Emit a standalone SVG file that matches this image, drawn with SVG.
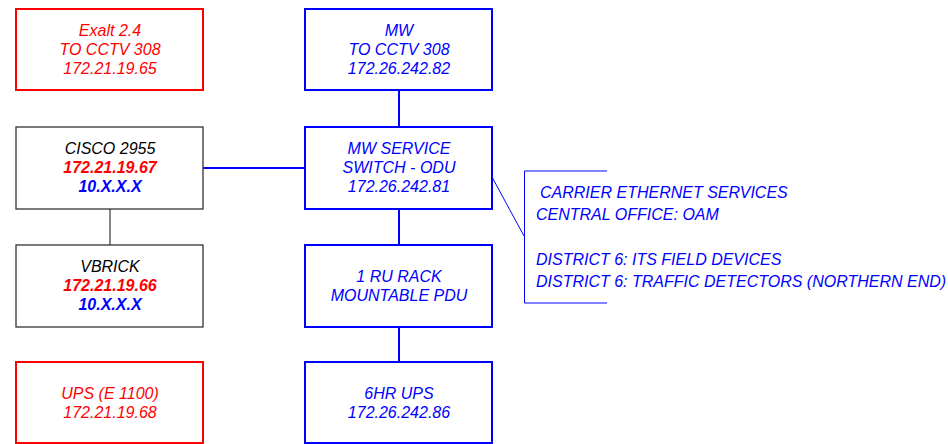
<svg xmlns="http://www.w3.org/2000/svg" width="948" height="444" viewBox="0 0 948 444">
<style>
text{font-family:"Liberation Sans",Arial,sans-serif;font-size:16px;font-style:italic;text-anchor:middle}
.r{fill:#ff0000}.b{fill:#0000ff}.k{fill:#000}.bold{font-weight:bold}
.boxr{fill:#fff;stroke:#ff0000;stroke-width:2}
.boxb{fill:#fff;stroke:#0000ff;stroke-width:2}
.boxk{fill:#fff;stroke:#333;stroke-width:1.3}
.cb{stroke:#0000ff;stroke-width:2;fill:none}
.ck{stroke:#444;stroke-width:1.3;fill:none}
.thin{stroke:#0000ff;stroke-width:1;fill:none}
</style>
<rect width="948" height="444" fill="#fff"/>
<g id="connectors">
<line class="cb" x1="399" y1="90" x2="399" y2="127"/>
<line class="cb" x1="203" y1="168" x2="305" y2="168"/>
<line class="ck" x1="110" y1="209" x2="110" y2="245"/>
<line class="cb" x1="399" y1="209" x2="399" y2="245"/>
<line class="cb" x1="399" y1="327" x2="399" y2="362"/>
<line class="thin" x1="492" y1="177" x2="524" y2="236"/>
<path class="thin" d="M607,171 H524.5 V303 H607"/>
</g>
<g id="exalt">
<rect class="boxr" x="16" y="9" width="187" height="81"/>
<text class="r" x="110" y="36">Exalt 2.4</text>
<text class="r" x="110" y="55">TO CCTV 308</text>
<text class="r" x="110" y="74">172.21.19.65</text>
</g>
<g id="mw">
<rect class="boxb" x="305" y="9" width="187" height="81"/>
<text class="b" x="399" y="36">MW</text>
<text class="b" x="399" y="55">TO CCTV 308</text>
<text class="b" x="399" y="74">172.26.242.82</text>
</g>
<g id="cisco">
<rect class="boxk" x="16" y="127" width="187" height="82"/>
<text class="k" x="110" y="154">CISCO 2955</text>
<text class="r bold" x="110" y="173">172.21.19.67</text>
<text class="b bold" x="110" y="192">10.X.X.X</text>
</g>
<g id="mwservice">
<rect class="boxb" x="305" y="127" width="187" height="82"/>
<text class="b" x="399" y="154">MW SERVICE</text>
<text class="b" x="399" y="173">SWITCH - ODU</text>
<text class="b" x="399" y="192">172.26.242.81</text>
</g>
<g id="vbrick">
<rect class="boxk" x="16" y="245" width="187" height="82"/>
<text class="k" x="110" y="272">VBRICK</text>
<text class="r bold" x="110" y="291">172.21.19.66</text>
<text class="b bold" x="110" y="310">10.X.X.X</text>
</g>
<g id="pdu">
<rect class="boxb" x="305" y="245" width="187" height="82"/>
<text class="b" x="399" y="282">1 RU RACK</text>
<text class="b" x="399" y="301">MOUNTABLE PDU</text>
</g>
<g id="ups">
<rect class="boxr" x="16" y="362" width="187" height="81"/>
<text class="r" x="110" y="399">UPS (E 1100)</text>
<text class="r" x="110" y="418">172.21.19.68</text>
</g>
<g id="ups6hr">
<rect class="boxb" x="305" y="362" width="187" height="81"/>
<text class="b" x="399" y="399">6HR UPS</text>
<text class="b" x="399" y="418">172.26.242.86</text>
</g>
<g id="services">
<text class="b" x="540" y="198" style="text-anchor:start">CARRIER ETHERNET SERVICES</text>
<text class="b" x="536" y="220" style="text-anchor:start">CENTRAL OFFICE: OAM</text>
<text class="b" x="536" y="265" style="text-anchor:start">DISTRICT 6: ITS FIELD DEVICES</text>
<text class="b" x="536" y="287" style="text-anchor:start">DISTRICT 6: TRAFFIC DETECTORS (NORTHERN END)</text>
</g>
</svg>
